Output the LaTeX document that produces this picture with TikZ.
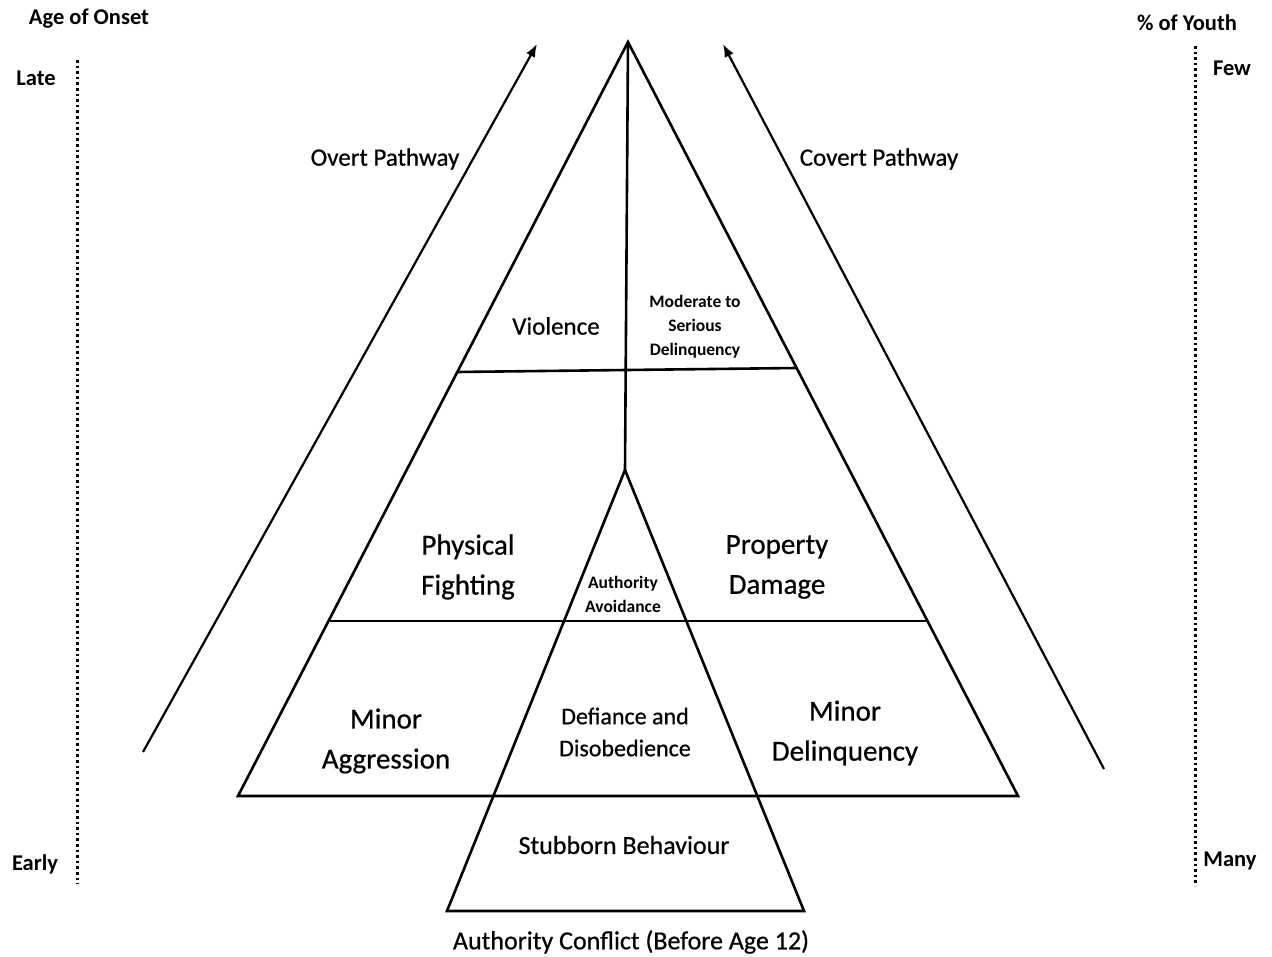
\documentclass[tikz,border=0pt]{standalone}
\usepackage{fontspec}
\setmainfont{Carlito}
\newfontfamily\semifont{Carlito}[RawFeature={embolden=0.6}]
\usetikzlibrary{arrows.meta}
\begin{document}
\begin{tikzpicture}[x=1pt,y=-1pt,
  edge/.style={line width=2.6pt,line join=miter},
  path/.style={line width=2.2pt,-{Latex[length=13pt,width=10pt]}},
  axis/.style={line width=3pt,dash pattern=on 2.6pt off 3pt},
  lbl/.style={inner sep=0pt,align=center,text=black},
  big/.style={lbl,font=\semifont\fontsize{29}{40}\selectfont},
  mid/.style={lbl,font=\semifont\fontsize{25}{32}\selectfont},
  sml/.style={lbl,font=\bfseries\fontsize{17.5}{24}\selectfont},
  hdr/.style={lbl,font=\bfseries\fontsize{22.5}{27}\selectfont}]
\useasboundingbox (0,0) rectangle (1272,957);
% coordinates
\coordinate (apex) at (628,42);
\coordinate (bl) at (238,796);
\coordinate (br) at (1018,796);
\coordinate (v1l) at (457,372);
\coordinate (v1r) at (797,368);
\coordinate (v2l) at (330,621);
\coordinate (v2r) at (928,621);
\coordinate (iapex) at (625,470);
\coordinate (ibl) at (447,911);
\coordinate (ibr) at (804,911);
\coordinate (oa1) at (143,752);
\coordinate (oa2) at (537,44);
\coordinate (ca1) at (1104,769);
\coordinate (ca2) at (723,44);
\coordinate (dl1) at (77,60);
\coordinate (dl2) at (77,884);
\coordinate (dr1) at (1195,46);
\coordinate (dr2) at (1195,886);
% pyramid
\draw[edge] (bl) -- (apex) -- (br) -- cycle;
\draw[edge] (v1l) -- (v1r);
\draw[edge] (v2l) -- (v2r);
\draw[edge] (apex) -- (iapex);
\draw[edge] (ibl) -- (iapex) -- (ibr) -- cycle;
% pathways
\draw[path] (oa1) -- (oa2);
\draw[path] (ca1) -- (ca2);
% axes
\draw[axis] (dl1) -- (dl2);
\draw[axis] (dr1) -- (dr2);
% labels
\node[hdr] (ageonset) at (89,19) {Age of Onset};
\node[hdr] (late) at (36,78) {Late};
\node[hdr] (early) at (35,864) {Early};
\node[hdr] (youth) at (1187,23) {\% of Youth};
\node[hdr] (few) at (1232,68) {Few};
\node[hdr] (many) at (1230,861) {Many};
\node[mid] (overt) at (385,159) {Overt Pathway};
\node[mid] (covert) at (879,159) {Covert Pathway};
\node[mid] (violence) at (556,326) {Violence};
\node[sml] (modser) at (695,327) {Moderate to\\Serious\\Delinquency};
\node[big] (phys) at (468,567) {Physical\\Fighting};
\node[big] (prop) at (777,567) {Property\\Damage};
\node[sml] (avoid) at (623,594) {Authority\\Avoidance};
\node[big] (minagg) at (386,741) {Minor\\Aggression};
\node[lbl,font=\semifont\fontsize{24}{32}\selectfont] (defi) at (625,732) {Defiance and\\Disobedience};
\node[big] (mindel) at (845,733) {Minor\\Delinquency};
\node[lbl,font=\semifont\fontsize{26}{30}\selectfont] (stub) at (624,845) {Stubborn Behaviour};
\node[lbl,font=\semifont\fontsize{26}{30}\selectfont] (conf) at (631,942) {Authority Conflict (Before Age 12)};
\end{tikzpicture}
\end{document}
